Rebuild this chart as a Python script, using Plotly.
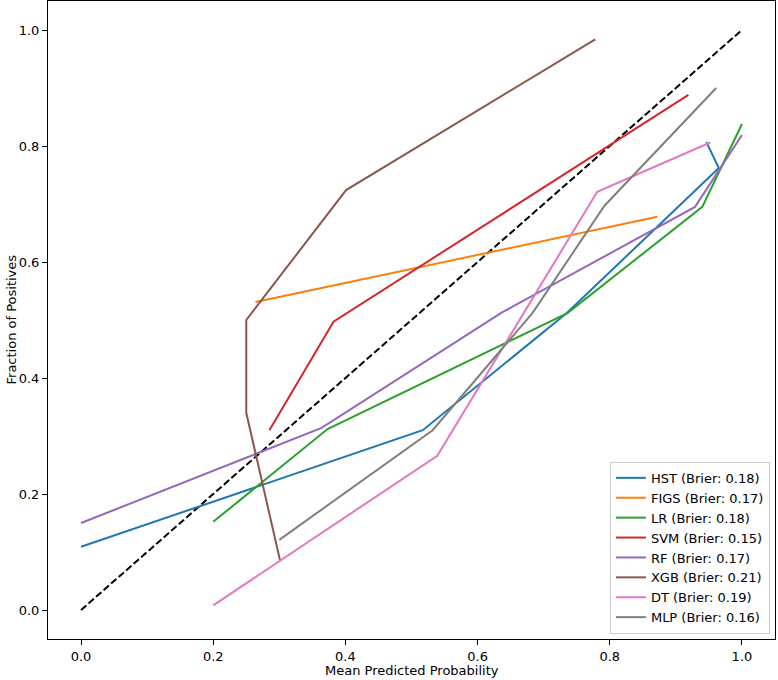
import plotly.graph_objects as go

names = ["HST", "FIGS", "LR", "SVM", "RF", "XGB", "DT", "MLP"]
briers = [0.18, 0.17, 0.18, 0.15, 0.17, 0.21, 0.19, 0.16]
colors = ["#1f77b4", "#ff7f0e", "#2ca02c", "#d62728", "#9467bd", "#8c564b", "#e377c2", "#7f7f7f"]

hst_x = [0.0, 0.517, 0.735, 0.965, 0.946]
hst_y = [0.109, 0.310, 0.512, 0.762, 0.807]
figs_x = [0.264, 0.872]
figs_y = [0.531, 0.678]
lr_x = [0.200, 0.373, 0.736, 0.940, 1.000]
lr_y = [0.152, 0.312, 0.512, 0.695, 0.838]
svm_x = [0.285, 0.382, 0.919]
svm_y = [0.310, 0.497, 0.888]
rf_x = [0.000, 0.364, 0.637, 0.929, 1.000]
rf_y = [0.150, 0.314, 0.513, 0.695, 0.819]
xgb_x = [0.301, 0.250, 0.250, 0.401, 0.778]
xgb_y = [0.086, 0.340, 0.500, 0.724, 0.984]
dt_x = [0.200, 0.539, 0.781, 0.952]
dt_y = [0.008, 0.266, 0.721, 0.806]
mlp_x = [0.300, 0.532, 0.683, 0.792, 0.961]
mlp_y = [0.121, 0.310, 0.512, 0.697, 0.900]

series_x = [hst_x, figs_x, lr_x, svm_x, rf_x, xgb_x, dt_x, mlp_x]
series_y = [hst_y, figs_y, lr_y, svm_y, rf_y, xgb_y, dt_y, mlp_y]

diag = [0, 1]
ticks = [0, 0.2, 0.4, 0.6, 0.8, 1.0]
tick_text = ["0.0", "0.2", "0.4", "0.6", "0.8", "1.0"]

fig = go.Figure()
fig.add_trace(go.Scatter(x=diag, y=diag, mode="lines", showlegend=False,
                         line=dict(color="black", width=2, dash="7px,3px")))
for n, b, c, xs, ys in zip(names, briers, colors, series_x, series_y):
    fig.add_trace(go.Scatter(x=xs, y=ys, mode="lines", name=f"{n} (Brier: {b:.2f})",
                             line=dict(color=c, width=2)))

axis_common = dict(showgrid=False, zeroline=False, showline=True, mirror=True,
                   linecolor="black", linewidth=1, ticks="outside", ticklen=5,
                   tickcolor="black", tickfont=dict(size=13, color="black"),
                   automargin=False, range=[-0.05, 1.05],
                   tickvals=ticks, ticktext=tick_text)
fig.update_layout(
    width=778, height=680,
    margin=dict(l=48, r=3, t=1, b=41),
    paper_bgcolor="white", plot_bgcolor="white",
    font=dict(family="DejaVu Sans", size=13, color="black"),
    xaxis=dict(**axis_common),
    yaxis=dict(**axis_common),
    legend=dict(x=0.993, y=0.008, xanchor="right", yanchor="bottom",
                bgcolor="rgba(255,255,255,0.8)", bordercolor="#cccccc", borderwidth=1,
                font=dict(size=13), itemwidth=30, tracegroupgap=0),
    annotations=[
        dict(text="Mean Predicted Probability", xref="paper", yref="paper",
             x=0.5, y=0, yshift=-22, xanchor="center", yanchor="top",
             showarrow=False, font=dict(size=13)),
        dict(text="Fraction of Positives", xref="paper", yref="paper",
             x=0, y=0.5, xshift=-47, xanchor="left", yanchor="middle", textangle=-90,
             showarrow=False, font=dict(size=13)),
    ],
)
fig.write_html("out.html", config={"displayModeBar": False},
               post_script="document.body.style.margin='0px';document.body.style.overflow='hidden';")
